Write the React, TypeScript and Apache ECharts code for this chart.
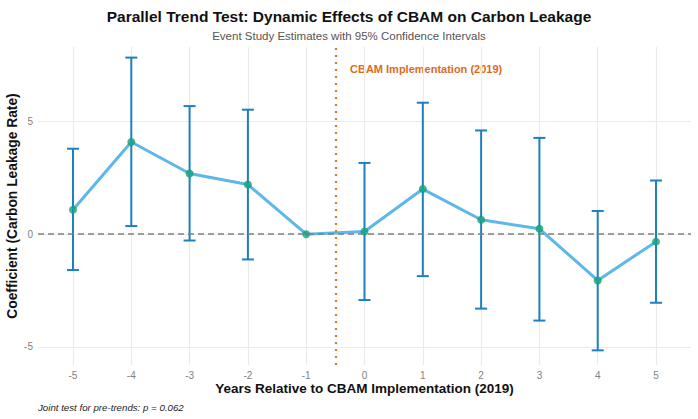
import React, { useEffect, useRef } from "react";
import * as echarts from "echarts";

// Event-study estimates, relative year -5 .. 5 (year -1 is the reference period)
const relYears = [-5, -4, -3, -2, -1, 0, 1, 2, 3, 4, 5];
const coefs = [1.08, 4.09, 2.69, 2.2, 0.0, 0.12, 2.0, 0.64, 0.24, -2.05, -0.33];
const ciLower = [-1.59, 0.36, -0.28, -1.12, 0.0, -2.92, -1.86, -3.3, -3.83, -5.15, -3.04];
const ciUpper = [3.79, 7.83, 5.68, 5.52, 0.0, 3.16, 5.83, 4.6, 4.27, 1.03, 2.38];
const yTicks = [-5, 0, 5];
const policyLine = -0.5;

const FONT = "Liberation Sans, Arial, Helvetica, sans-serif";

export default function App() {
  const ref = useRef<HTMLDivElement>(null);

  useEffect(() => {
    if (!ref.current) return;
    const chart = echarts.init(ref.current, undefined, { renderer: "svg" });

    const pointData = relYears.map((x, i) => [x, coefs[i]]);
    const barData = relYears
      .map((x, i) => [x, ciLower[i], ciUpper[i]])
      .filter((d) => d[1] !== d[2]);

    chart.setOption({
      animation: false,
      backgroundColor: "#ffffff",
      textStyle: { fontFamily: FONT },
      title: [
        {
          text: "Parallel Trend Test: Dynamic Effects of CBAM on Carbon Leakage",
          left: "center",
          top: 3,
          textStyle: { fontSize: 15.5, fontWeight: "bold", color: "#111", fontFamily: FONT },
        },
        {
          text: "Event Study Estimates with 95% Confidence Intervals",
          left: "center",
          top: 25,
          textStyle: { fontSize: 11.5, fontWeight: "normal", color: "#555", fontFamily: FONT },
        },
      ],
      grid: { left: 38, right: 7, top: 47, bottom: 54, outerBoundsMode: "none", containLabel: false },
      xAxis: {
        type: "value",
        min: -5.6,
        max: 5.6,
        name: "Years Relative to CBAM Implementation (2019)",
        nameLocation: "middle",
        nameGap: 16,
        nameMoveOverlap: false,
        nameTextStyle: { fontSize: 13.5, fontWeight: "bold", color: "#111", fontFamily: FONT },
        axisLine: { show: false },
        axisTick: { show: false, customValues: relYears },
        axisLabel: {
          customValues: relYears,
          color: "#7f7f7f",
          fontSize: 10,
          margin: 5,
          fontFamily: FONT,
        },
        splitLine: { show: true, lineStyle: { color: "#ebebeb", width: 1.2 } },
      },
      yAxis: {
        type: "value",
        min: -5.8,
        max: 8.3,
        name: "Coefficient (Carbon Leakage Rate)",
        nameLocation: "middle",
        nameGap: 19,
        nameMoveOverlap: false,
        nameTextStyle: { fontSize: 13.8, fontWeight: "bold", color: "#111", fontFamily: FONT },
        axisLine: { show: false },
        axisTick: { show: false, customValues: yTicks },
        axisLabel: {
          customValues: yTicks,
          color: "#7f7f7f",
          fontSize: 10,
          margin: 5,
          fontFamily: FONT,
        },
        splitLine: { show: true, lineStyle: { color: "#ebebeb", width: 1.2 } },
      },
      graphic: [
        {
          type: "text",
          left: 350,
          top: 63,
          style: {
            text: "CBAM Implementation (2019)",
            fill: "#dd6b1f",
            font: `bold 11px ${FONT}`,
          },
        },
        {
          type: "text",
          left: 38,
          top: 402,
          style: {
            text: "Joint test for pre-trends: p = 0.062",
            fill: "#222",
            font: `italic 9.7px ${FONT}`,
          },
        },
      ],
      series: [
        {
          type: "custom",
          name: "ci",
          data: barData,
          z: 2,
          renderItem: (params: any, api: any) => {
            const x = api.value(0);
            const lo = api.coord([x, api.value(1)]);
            const hi = api.coord([x, api.value(2)]);
            const cap = 6;
            const style = { stroke: "#1f7fbf", lineWidth: 2 };
            return {
              type: "group",
              children: [
                { type: "line", shape: { x1: lo[0], y1: lo[1], x2: hi[0], y2: hi[1] }, style },
                { type: "line", shape: { x1: lo[0] - cap, y1: lo[1], x2: lo[0] + cap, y2: lo[1] }, style },
                { type: "line", shape: { x1: hi[0] - cap, y1: hi[1], x2: hi[0] + cap, y2: hi[1] }, style },
              ],
            };
          },
        },
        {
          type: "line",
          name: "trend",
          data: pointData,
          z: 3,
          symbol: "none",
          lineStyle: { color: "#5db7e8", width: 3 },
          markLine: {
            silent: true,
            symbol: "none",
            label: { show: false },
            data: [
              { yAxis: 0, lineStyle: { color: "#808080", type: [6, 4], width: 1.6 } },
              { xAxis: policyLine, lineStyle: { color: "#e07a2a", type: [2, 5], width: 2.2 } },
            ],
          },
        },
        {
          type: "scatter",
          name: "points",
          data: pointData,
          z: 4,
          symbol: "circle",
          symbolSize: 8,
          itemStyle: { color: "#13a07a" },
        },
      ],
    });

    return () => chart.dispose();
  }, []);

  return (
    <div
      ref={ref}
      style={{ position: "fixed", left: 0, top: 0, width: 698, height: 419 }}
    />
  );
}
